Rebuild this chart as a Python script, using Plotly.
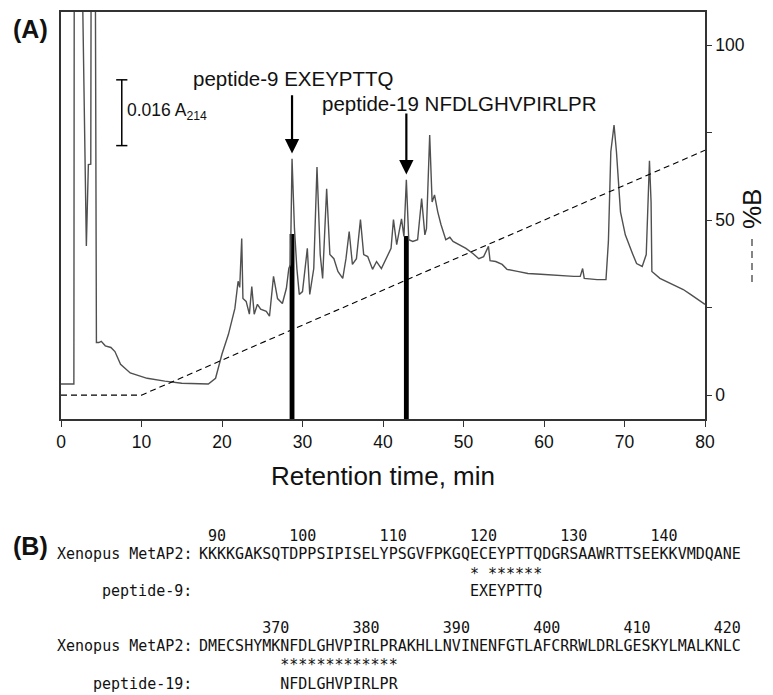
import plotly.graph_objects as go

# ---------------- data ----------------
# (A) RP-HPLC chromatogram, absorbance at 214 nm (mAU, arbitrary baseline)
time_min = [0.0, 1.6, 1.65, 2.55, 3.15, 3.4, 3.7, 3.75, 4.25, 4.4,
            4.7, 5.0, 5.5, 6.2, 6.7, 7.4, 8.6, 10.7, 12.9, 15.0,
            18.3, 19.2, 20.0, 20.8, 21.6, 22.0, 22.2, 22.45, 22.6, 23.0,
            23.4, 23.7, 24.0, 24.4, 24.8, 25.5, 25.9, 26.4, 26.9, 27.5,
            28.0, 28.3, 28.5, 28.7, 29.0, 29.3, 29.6, 30.0, 30.6, 30.9,
            31.4, 31.8, 32.2, 32.5, 33.0, 33.4, 33.9, 34.4, 35.0, 35.4,
            35.8, 36.2, 36.7, 37.2, 37.6, 38.1, 38.7, 39.2, 39.8, 40.4,
            41.0, 41.3, 41.7, 42.3, 42.6, 42.9, 43.2, 43.7, 44.3, 44.8,
            45.2, 45.4, 45.8, 46.1, 46.4, 46.8, 47.2, 47.8, 48.3, 48.7,
            49.5, 50.3, 51.2, 51.9, 52.5, 53.1, 53.3, 54.0, 54.8, 55.4,
            56.7, 58.0, 59.6, 61.7, 63.7, 64.5, 64.8, 65.0, 66.6, 67.7,
            68.0, 68.3, 68.7, 69.0, 69.5, 70.1, 70.7, 71.0, 71.5, 72.2,
            72.7, 72.9, 73.1, 73.3, 73.4, 74.4, 76.0, 77.3, 78.2, 80.0]
absorbance_mau = [8.5, 8.5, 120, 120, 42.1, 61.9, 62.0, 120, 120, 18.6,
                  18.6, 18.9, 17.8, 17.4, 16.4, 13.3, 11.2, 9.9, 9.2, 8.7,
                  8.5, 9.9, 15.8, 20.6, 26.9, 33.5, 32.0, 43.9, 29.3, 28.6,
                  25.5, 32.2, 25.5, 27.9, 26.7, 26.2, 25.0, 34.7, 29.3, 28.1,
                  31.8, 36.6, 37.6, 63.3, 46.3, 36.6, 30.3, 31.0, 41.5, 30.3,
                  36.6, 61.3, 40.0, 34.2, 56.0, 40.0, 39.0, 35.9, 34.2, 39.0,
                  45.6, 37.6, 39.0, 48.5, 40.0, 39.5, 36.4, 38.3, 36.6, 39.0,
                  41.5, 48.5, 42.4, 48.7, 44.4, 58.2, 43.6, 43.2, 43.6, 53.6,
                  44.8, 46.3, 69.1, 52.8, 54.5, 50.4, 47.3, 43.6, 44.2, 43.2,
                  42.4, 41.5, 40.2, 39.0, 39.5, 42.0, 38.5, 38.3, 37.6, 36.4,
                  35.9, 35.4, 35.2, 34.9, 34.7, 34.7, 36.6, 34.2, 33.9, 33.9,
                  43.2, 65.0, 71.5, 65.0, 50.4, 44.8, 41.5, 40.2, 37.8, 37.1,
                  40.0, 52.8, 62.8, 52.8, 35.9, 34.2, 32.7, 31.5, 30.3, 27.9]

# Acetonitrile gradient (%B)
gradient_time = [0, 10, 80]
gradient_pct_b = [0, 0, 70]

# Collected peptide fractions
peak_times = [28.7, 42.9]
peak_bar_heights = [45.0, 44.5]
peak_names = ["peptide-9 EXEYPTTQ", "peptide-19 NFDLGHVPIRLPR"]
arrow_tip_mau = [64.6, 59.5]
arrow_tail_mau = [79.1, 74.7]

# Absorbance scale bar: 0.016 A214 = 16 mAU
scale_bar_time = 7.55
scale_bar_base = 66.5
scale_bar_mau = 16.0

x_ticks = [0, 10, 20, 30, 40, 50, 60, 70, 80]
pctb_ticks = [0, 50, 100]
pctb_minor_step = 25

# (B) sequence alignment
seq_label = "Xenopus MetAP2:"
seq1 = "KKKKGAKSQTDPPSIPISELYPSGVFPKGQECEYPTTQDGRSAAWRTTSEEKKVMDQANE"
seq1_first_residue = 88
pep9_label = "peptide-9:"
pep9 = "EXEYPTTQ"
pep9_offset = 30
seq2 = "DMECSHYMKNFDLGHVPIRLPRAKHLLNVINENFGTLAFCRRWLDRLGESKYLMALKNLC"
seq2_first_residue = 361
pep19_label = "peptide-19:"
pep19 = "NFDLGHVPIRLPR"
pep19_offset = 9

# ---------------- layout geometry ----------------
W, H = 773, 695
PL, PR, PT, PB = 61, 705, 10, 419   # plot area in pixels
NB = "\u00a0"


def px_x(px):
    return (px - PL) / (PR - PL)


def px_y(py):
    return (PB - py) / (PB - PT)


def number_row(first, seq):
    row = [" "] * len(seq)
    n = ((first + 9) // 10) * 10
    while n < first + len(seq):
        s = str(n)
        end = n - first
        start = end - len(s) + 1
        if start >= 0:
            for i, ch in enumerate(s):
                row[start + i] = ch
        n += 10
    return "".join(row).rstrip().replace(" ", NB)


def star_row(seq, pep, off):
    marks = ["*" if seq[off + i] == c else " " for i, c in enumerate(pep)]
    return (NB * off + "".join(marks)).replace(" ", NB)


AX = "#333333"
fig = go.Figure()

fig.add_trace(go.Scatter(x=time_min, y=absorbance_mau, mode="lines",
                         line=dict(color="#505050", width=1.4),
                         yaxis="y", showlegend=False, hoverinfo="skip"))
fig.add_trace(go.Scatter(x=gradient_time, y=gradient_pct_b, mode="lines",
                         line=dict(color="black", width=1.1, dash="6px,4px"),
                         yaxis="y2", showlegend=False, hoverinfo="skip"))
fig.add_trace(go.Bar(x=peak_times, y=peak_bar_heights, width=0.6,
                     marker=dict(color="black", line=dict(width=0)),
                     yaxis="y", showlegend=False, hoverinfo="skip"))
fig.add_trace(go.Scatter(x=[scale_bar_time, scale_bar_time],
                         y=[scale_bar_base, scale_bar_base + scale_bar_mau],
                         mode="lines+markers",
                         line=dict(color="black", width=1.5),
                         marker=dict(symbol="line-ew-open", size=8,
                                     line=dict(color="black", width=1.5)),
                         yaxis="y", showlegend=False, hoverinfo="skip"))

ann = []
# arrows
for t, tip, tail in zip(peak_times, arrow_tip_mau, arrow_tail_mau):
    ann.append(dict(x=t, y=tip, ax=t, ay=tail, xref="x", yref="y",
                    axref="x", ayref="y", text="", showarrow=True,
                    arrowhead=2, arrowsize=1.3, arrowwidth=2.2,
                    arrowcolor="black"))
label_font = dict(family="Liberation Sans, Arial", size=20.5, color="#111")
ann.append(dict(x=px_x(293.5), y=px_y(77), xref="paper", yref="paper",
                text=peak_names[0], showarrow=False, xanchor="center",
                yanchor="middle", font=label_font))
ann.append(dict(x=px_x(320), y=px_y(102), xref="paper", yref="paper",
                text=peak_names[1], showarrow=False, xanchor="left",
                yanchor="middle", font=label_font))
ann.append(dict(x=px_x(125), y=px_y(110), xref="paper", yref="paper",
                text="0.016 A<sub>214</sub>", showarrow=False, xanchor="left",
                yanchor="middle",
                font=dict(family="Liberation Sans, Arial", size=17.5, color="#111")))
# panel letters
for txt, py in [("(A)", 27), ("(B)", 547)]:
    ann.append(dict(x=px_x(30), y=px_y(py), xref="paper", yref="paper",
                    text="<b>%s</b>" % txt, showarrow=False, xanchor="center",
                    yanchor="middle",
                    font=dict(family="Liberation Sans, Arial", size=25, color="#111")))
# axis titles
ann.append(dict(x=0.5, y=px_y(476), xref="paper", yref="paper",
                text="Retention time, min", showarrow=False, xanchor="center",
                yanchor="middle",
                font=dict(family="Liberation Sans, Arial", size=26, color="#111")))
ann.append(dict(x=px_x(752), y=px_y(208), xref="paper", yref="paper",
                text="%B", textangle=-90, showarrow=False, xanchor="center",
                yanchor="middle",
                font=dict(family="Liberation Sans, Arial", size=26, color="#111")))

# (B) alignment text
mono = dict(family="DejaVu Sans Mono, monospace", size=15, color="#111")
SEQ_X = px_x(197)
LAB_X = px_x(193.5)
rows = [
    (SEQ_X, "left", 537, number_row(seq1_first_residue, seq1)),
    (LAB_X, "right", 555, seq_label.replace(" ", NB)),
    (SEQ_X, "left", 555, seq1),
    (SEQ_X, "left", 575, star_row(seq1, pep9, pep9_offset)),
    (LAB_X, "right", 592, pep9_label),
    (SEQ_X, "left", 592, NB * pep9_offset + pep9),
    (SEQ_X, "left", 629, number_row(seq2_first_residue, seq2)),
    (LAB_X, "right", 647, seq_label.replace(" ", NB)),
    (SEQ_X, "left", 647, seq2),
    (SEQ_X, "left", 666, star_row(seq2, pep19, pep19_offset)),
    (LAB_X, "right", 685, pep19_label),
    (SEQ_X, "left", 685, NB * pep19_offset + pep19),
]
for x, anchor, py, txt in rows:
    ann.append(dict(x=x, y=px_y(py), xref="paper", yref="paper", text=txt,
                    showarrow=False, xanchor=anchor, yanchor="middle", font=mono))

shapes = [dict(type="line", xref="paper", yref="paper",
               x0=px_x(752), x1=px_x(752), y0=px_y(238), y1=px_y(283),
               line=dict(color="#222", width=1.1, dash="7px,5px"))]

tick_font = dict(family="Liberation Sans, Arial", size=17.5, color="#111")
fig.update_layout(
    width=W, height=H,
    margin=dict(l=PL, r=W - PR, t=PT, b=H - PB, pad=0),
    paper_bgcolor="white", plot_bgcolor="white",
    showlegend=False,
    xaxis=dict(range=[0, 80], tickvals=x_ticks, ticks="outside", ticklen=6,
               tickwidth=1.2, tickcolor=AX, showline=True, linecolor=AX,
               linewidth=1.5, mirror=True, showgrid=False, zeroline=False,
               tickfont=tick_font),
    yaxis=dict(range=[0, 99], showline=True, linecolor=AX, linewidth=1.5,
               showticklabels=False, ticks="", showgrid=False, zeroline=False),
    yaxis2=dict(range=[-6.82, 109.5], overlaying="y", side="right",
                tickvals=pctb_ticks, ticks="outside",
                ticklen=5, tickwidth=1.2, tickcolor=AX, showline=True,
                linecolor=AX, linewidth=1.5, showgrid=False, zeroline=False,
                tickfont=tick_font,
                minor=dict(tickmode="linear", tick0=0, dtick=pctb_minor_step,
                           ticks="outside", ticklen=5, tickwidth=1.2,
                           tickcolor=AX, showgrid=False)),
    annotations=ann,
    shapes=shapes,
)

fig.write_html("out.html",
               config={"displayModeBar": False},
               post_script="document.body.style.margin='0';"
                           "document.body.style.overflow='hidden';")
